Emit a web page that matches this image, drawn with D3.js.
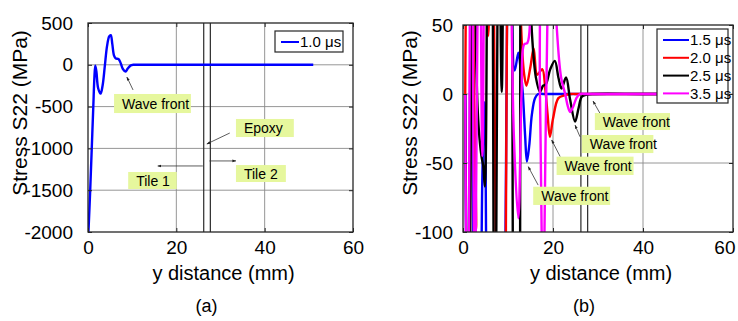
<!DOCTYPE html>
<html>
<head>
<meta charset="utf-8">
<script src="https://cdn.jsdelivr.net/npm/d3@7"></script>
<style>
  body { margin: 0; background: #fff; }
  svg { font-family: "Liberation Sans", Arial, sans-serif; }
</style>
</head>
<body>
<svg width="738" height="321"></svg>
<script>
// ---- данные (a): 1.0 us ----
const xA   = [0.1, 0.5, 0.85, 1.2, 1.45, 1.65, 1.9, 2.3, 2.85, 3.3, 3.8, 4.3, 4.8, 5.15, 5.5, 5.9, 6.3, 6.9, 7.4, 7.9, 8.5, 9.0, 9.6, 10.3, 11, 20, 30, 40, 51];
const s10  = [-2000, -1500, -1000, -500, -150, -10, -80, -280, -345, -250, -20, 220, 340, 355, 250, 110, 75, 70, 20, -50, -80, -45, -10, 0, 0, 0, 0, 0, 0];

// ---- данные (b) ----
const x15 = [0.5, 1.2, 1.9, 2.7, 3.5, 4.3, 4.8, 5.4, 6.8, 8.6, 10.3, 11.5, 12.3, 12.8, 13.3, 13.8, 14.2, 14.7, 15.3, 16.0, 16.7, 18, 25, 35, 45, 51];
const s15 = [0, -300, 300, -250, -300, -60, -6, -200, -400, -300, 150, 17, 30, 18, 0, -30, -49, -38, -15, -3, 0, 0, 0, 0, 0, 0];

const x20 = [0.5, 1.4, 2.9, 3.6, 4.6, 5.6, 6.5, 7.5, 8.8, 10.2, 11.5, 12.9, 13.6, 14.1, 15.0, 15.7, 16.5, 17.6, 18.3, 18.8, 19.3, 20.0, 21.2, 22.5, 24, 25.5, 30, 40, 51];
const s20 = [0, 300, -98, 200, 200, 42, 250, -200, -350, 200, 350, 50, 14, 6, 20, 33, 14, 18, 3, -15, -31, -18, -3, -1, 0, 0, 0, 0, 0];

const x25 = [0.5, 1.3, 2.2, 3.0, 3.5, 4.1, 4.5, 4.85, 5.5, 6.2, 7.1, 7.9, 8.6, 9.3, 10.4, 11.6, 12.4, 13.2, 14.3, 15.3, 16.2, 17.1, 17.8, 18.4, 19.4, 20.4, 21.2, 21.9, 22.9, 23.8, 24.9, 25.7, 26.4, 27.5, 29, 40, 51];
const s25 = [0, -300, 250, 14, -25, -45, -52, -67, 150, 300, -300, 200, 1.5, 200, 300, -300, -250, 200, 150, 45, 12, 1.5, 6, 7, 18, 24, 12, 4, 12, -4, -20, -10, -2, -0.5, 0, 0, 0];

const x35 = [0.5, 1.1, 1.8, 2.6, 3.6, 4.3, 5.2, 7.0, 8.2, 9.3, 10.2, 11.3, 12.3, 13.0, 13.6, 14.3, 15.0, 15.8, 16.3, 17.1, 17.8, 18.5, 19.5, 20.8, 21.8, 22.7, 23.3, 23.8, 24.5, 25.2, 26.0, 27, 30, 40, 51];
const s35 = [0, -300, 300, -200, 200, -45, 250, 400, 150, 300, 200, -30, -90, 0, 36, 37, 60, 150, 150, 0, -150, 0, 150, 50, 12, 0, -9, -13, -9, -3, 0, 0, 0, 0, 0];

const xTicks  = [0, 20, 40, 60];
const yTicksA = [500, 0, -500, -1000, -1500, -2000];
const yTicksB = [50, 0, -50, -100];
const interfaces = [26.2, 27.7]; // границы слоя эпоксидки, мм

// подписи-выноски (в координатах данных)
const notesA = [
  {text: "Wave front", x0: 5.9,  x1: 23.3, y0: -349,  y1: -577},
  {text: "Epoxy",      x0: 33.5, x1: 46.6, y0: -648,  y1: -864},
  {text: "Tile 1",     x0: 9.1,  x1: 20.1, y0: -1282, y1: -1486},
  {text: "Tile 2",     x0: 33.5, x1: 44.8, y0: -1199, y1: -1402}
];
const arrowsA = [
  {from: [10.2, -301],  to: [8.8, -146]},
  {from: [32.1, -816],  to: [26.9, -947]},
  {from: [26.0, -1210], to: [15.8, -1210]},
  {from: [27.5, -1150], to: [33.5, -1150]}
];
const notesB = [
  {text: "Wave front", x0: 29.3, x1: 46.0, y0: -13.8, y1: -26.1},
  {text: "Wave front", x0: 26.4, x1: 42.3, y0: -29.7, y1: -42.8},
  {text: "Wave front", x0: 20.8, x1: 37.9, y0: -45.4, y1: -58.7},
  {text: "Wave front", x0: 15.6, x1: 32.7, y0: -67.2, y1: -80.4}
];
const arrowsB = [
  {from: [30.4, -13.8], to: [28.9, -5.1]},
  {from: [26.0, -31],   to: [24.9, -22.6]},
  {from: [21.6, -45.4], to: [19.7, -33.3]},
  {from: [16.7, -66],   to: [14.5, -52.7]}
];

const svg = d3.select("svg");

// наконечник стрелки
svg.append("defs").append("marker")
    .attr("id", "arr")
    .attr("viewBox", "0 0 10 10")
    .attr("refX", 9).attr("refY", 5)
    .attr("markerWidth", 5).attr("markerHeight", 5)
    .attr("orient", "auto")
  .append("path")
    .attr("d", "M0,1.5 L10,5 L0,8.5 Z")
    .attr("fill", "#222");

const panels = [
  {
    id: "a", left: 88, right: 353, top: 23, bottom: 232,
    yDomain: [-2000, 500], yTicks: yTicksA, yPad: 15,
    series: [{name: "1.0 μs", x: xA, y: s10, color: "#0000ff"}],
    legend: {x: 275, y: 31, w: 68, h: 21, row: 17, line: 18},
    notes: notesA, arrows: arrowsA, label: "(a)"
  },
  {
    id: "b", left: 463, right: 733, top: 25, bottom: 232,
    yDomain: [-100, 50], yTicks: yTicksB, yPad: 10,
    series: [
      {name: "1.5 μs", x: x15, y: s15, color: "#0000ff"},
      {name: "2.0 μs", x: x20, y: s20, color: "#ff0000"},
      {name: "2.5 μs", x: x25, y: s25, color: "#000000"},
      {name: "3.5 μs", x: x35, y: s35, color: "#ff00ff"}
    ],
    legend: {x: 657, y: 29, w: 71, h: 74, row: 17.8, line: 26},
    notes: notesB, arrows: arrowsB, label: "(b)"
  }
];

panels.forEach(drawPanel);

function drawPanel(p) {
    const w = p.right - p.left, h = p.bottom - p.top;
    const g = svg.append("g").attr("transform", `translate(${p.left},${p.top})`);

    const scX = d3.scaleLinear().domain([0, 60]).range([0, w]);
    const scY = d3.scaleLinear().domain(p.yDomain).range([h, 0]);

    g.append("clipPath").attr("id", "clip-" + p.id)
      .append("rect").attr("width", w).attr("height", h);

    // сетка
    g.selectAll(".gx").data(xTicks.slice(1, -1)).enter().append("line")
        .attr("x1", d => scX(d)).attr("x2", d => scX(d))
        .attr("y1", 0).attr("y2", h)
        .attr("stroke", "#8a8a8a").attr("stroke-width", 0.9);
    g.selectAll(".gy").data(p.yTicks.filter(d => d !== p.yDomain[0] && d !== p.yDomain[1])).enter().append("line")
        .attr("x1", 0).attr("x2", w)
        .attr("y1", d => scY(d)).attr("y2", d => scY(d))
        .attr("stroke", "#8a8a8a").attr("stroke-width", 0.9);

    // границы слоёв
    g.selectAll(".iface").data(interfaces).enter().append("line")
        .attr("x1", d => scX(d)).attr("x2", d => scX(d))
        .attr("y1", 0).attr("y2", h)
        .attr("stroke", "#2a2a2a").attr("stroke-width", 1.2);

    // кривые
    const line = d3.line().curve(d3.curveCatmullRom.alpha(0.5));
    g.append("g").attr("clip-path", `url(#clip-${p.id})`)
      .selectAll("path").data(p.series).enter().append("path")
        .attr("d", s => line(s.x.map((x, i) => [scX(x), scY(s.y[i])])))
        .attr("fill", "none")
        .attr("stroke", s => s.color)
        .attr("stroke-width", 2.4)
        .attr("stroke-linejoin", "round");

    // оси (деления внутрь, как в MATLAB)
    const axB = g.append("g").attr("transform", `translate(0,${h})`)
        .call(d3.axisBottom(scX).tickValues(xTicks).tickSize(-4).tickSizeOuter(0).tickPadding(9));
    const axL = g.append("g")
        .call(d3.axisLeft(scY).tickValues(p.yTicks).tickSize(-4).tickSizeOuter(0).tickPadding(p.yPad));
    g.append("g").call(d3.axisTop(scX).tickValues(xTicks).tickSize(-4).tickSizeOuter(0).tickFormat(""));
    g.append("g").attr("transform", `translate(${w},0)`)
        .call(d3.axisRight(scY).tickValues(p.yTicks).tickSize(-4).tickSizeOuter(0).tickFormat(""));
    g.selectAll(".domain").remove();
    g.selectAll(".tick line").attr("stroke", "#262626");
    [axB, axL].forEach(ax => ax.selectAll("text")
        .style("font-size", "19px").attr("fill", "#000")
        .style("font-family", "'Liberation Sans', Arial, sans-serif"));
    axL.selectAll("text").text(d => d < 0 ? "-" + Math.abs(d) : d);
    if (p.id === "b") {
        // последняя подпись не влезает в картинку
        axB.selectAll("text").filter(d => d === 60).attr("text-anchor", "end").attr("dx", 2);
    }

    g.append("rect").attr("width", w).attr("height", h)
        .attr("fill", "none").attr("stroke", "#262626").attr("stroke-width", 1.3);

    // подписи осей
    g.append("text")
        .attr("x", w / 2 + 3).attr("y", 280 - p.top)
        .attr("text-anchor", "middle").style("font-size", "20px")
        .text("y distance (mm)");
    g.append("text")
        .attr("transform", `translate(${(p.id === "a" ? 27 : 417) - p.left},${113 - p.top}) rotate(-90)`)
        .attr("text-anchor", "middle").style("font-size", "21px")
        .text("Stress S22 (MPa)");
    g.append("text")
        .attr("x", w / 2 - 14).attr("y", 312 - p.top)
        .attr("text-anchor", "middle").style("font-size", "18px")
        .text(p.label);

    // легенда
    const L = p.legend;
    const lg = svg.append("g").attr("transform", `translate(${L.x},${L.y})`);
    lg.append("rect").attr("width", L.w).attr("height", L.h)
        .attr("fill", "#fff").attr("stroke", "#262626").attr("stroke-width", 1.2);
    const rows = lg.selectAll(".row").data(p.series).enter().append("g")
        .attr("transform", (d, i) => `translate(3,${11 + i * L.row})`);
    rows.append("line").attr("x1", 3).attr("x2", 3 + L.line)
        .attr("stroke", d => d.color).attr("stroke-width", 2);
    rows.append("text").attr("x", 4 + L.line).attr("dy", "0.35em")
        .style("font-size", "15px").text(d => d.name);

    // выноски
    const ng = g.append("g");
    ng.selectAll("line").data(p.arrows).enter().append("line")
        .attr("x1", d => scX(d.from[0])).attr("y1", d => scY(d.from[1]))
        .attr("x2", d => scX(d.to[0])).attr("y2", d => scY(d.to[1]))
        .attr("stroke", "#333").attr("stroke-width", 0.8)
        .attr("marker-end", "url(#arr)");
    const boxes = ng.selectAll(".note").data(p.notes).enter().append("g");
    boxes.append("rect")
        .attr("x", d => scX(d.x0)).attr("y", d => scY(d.y0))
        .attr("width", d => scX(d.x1) - scX(d.x0))
        .attr("height", d => scY(d.y1) - scY(d.y0))
        .attr("fill", "#e6f79d");
    boxes.append("text")
        .attr("x", d => scX(d.x0) + 8)
        .attr("y", d => (scY(d.y0) + scY(d.y1)) / 2)
        .attr("dy", "0.36em").style("font-size", "14px")
        .text(d => d.text);
}
</script>
</body>
</html>
